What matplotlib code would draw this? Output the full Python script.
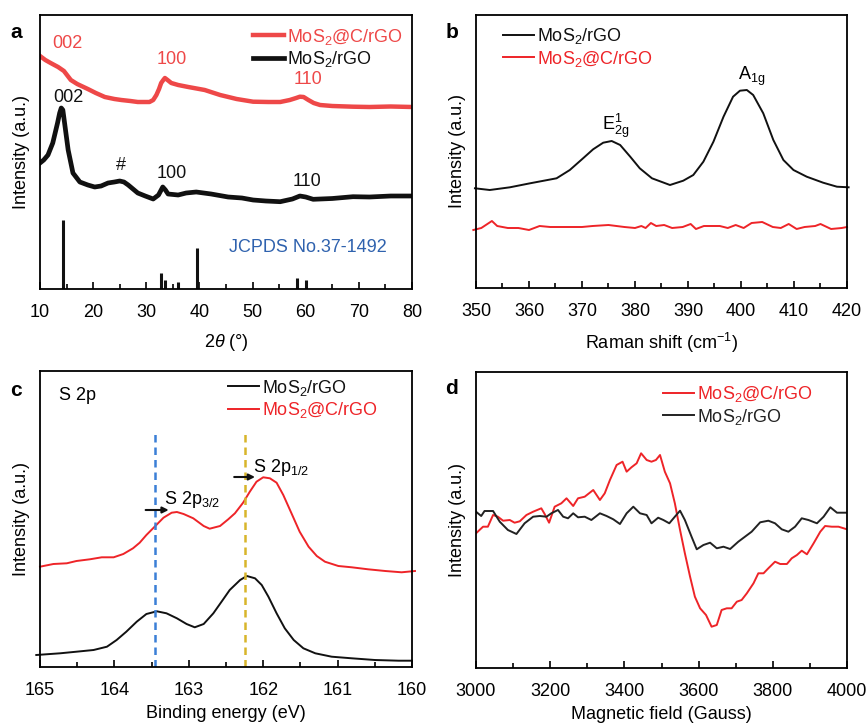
import matplotlib
matplotlib.use("Agg")
import matplotlib.pyplot as plt
from matplotlib.ticker import MultipleLocator

plt.rcParams['font.family'] = ['Liberation Sans', 'DejaVu Sans']
plt.rcParams['mathtext.fontset'] = 'custom'
plt.rcParams['mathtext.rm'] = 'Liberation Sans'
plt.rcParams['mathtext.it'] = 'Liberation Sans:italic'
plt.rcParams['mathtext.bf'] = 'Liberation Sans:bold'
plt.rcParams['mathtext.default'] = 'regular'

# ---------------- DATA ----------------
# (a) XRD  (intensity in arbitrary units)
xrd_red_x = [10, 11, 12, 13.4, 14.5, 15.8, 17, 19, 20.5, 22.2, 24, 25.3, 27, 28.4, 30.6, 31.3, 31.9,
             32.4, 32.8, 33.2, 33.5, 34, 34.7, 36, 37.9, 41, 43.9, 47, 50.1, 53, 55.2, 57, 58.2, 58.9,
             59.6, 60.5, 61.5, 62.7, 65, 68.9, 72, 76, 80]
xrd_red_y = [233, 229, 226, 222, 218, 209, 205, 200, 196, 192, 190, 189, 188, 187, 187, 189, 194,
             200, 206, 209, 211, 209, 206, 204, 202, 199, 194, 190, 187.3, 187, 187, 189, 191, 192.3,
             192, 189, 186, 184, 183, 182.3, 182, 182.5, 182]
xrd_blk_x = [10, 10.7, 11.5, 12.4, 13.3, 13.7, 14.0, 14.3, 14.6, 15.3, 16.2, 17.5, 19, 20.3, 21.5, 22.8,
             24, 25, 25.8, 26.6, 27.5, 28.4, 29.8, 31.3, 32.3, 32.8, 33.1, 33.6, 34.1, 36, 37.5, 39.4,
             42.2, 45.4, 48, 50.1, 52.5, 55.2, 57.5, 58.9, 60, 61.4, 65, 68.9, 72, 76, 80]
xrd_blk_y = [126, 129, 134, 146, 166, 176, 181, 179, 167, 139, 116, 107, 104, 102, 103, 106,
             107, 108, 107, 104, 100, 96, 93, 90, 94, 99, 102, 99, 95, 94, 96, 97,
             95, 92, 91, 89, 88, 87.3, 90, 93, 92, 89.7, 90.5, 92.3, 92, 93, 93]
jcpds_pos = [14.4, 32.7, 33.5, 35.9, 39.5, 58.3, 60.1]
jcpds_int = [69, 16, 9, 7, 41, 11, 9]

# (b) Raman
raman_blk_x = [349.8, 352.6, 356.4, 360.2, 365.2, 367.7, 370.2, 372.1, 374.0, 375.6, 377.2, 379.1, 380.9,
               383.2, 386.6, 389.1, 391.0, 392.9, 394.8, 396.7, 398.5, 399.8, 401.1, 402.3, 404.2, 406.1,
               408.0, 409.9, 412.4, 415.5, 418.1, 420.3]
raman_blk_y = [99.7, 98, 100.7, 104.7, 109.7, 118, 129.7, 138.7, 145.3, 147, 143, 131.3, 119.7,
               109.7, 103, 107.3, 113, 126.3, 146.3, 171.3, 191.3, 197.3, 198, 193, 174.7, 148,
               128, 118, 111.3, 105.3, 101.3, 100.7]
raman_red_x = [349.5, 351, 353, 354, 356, 358, 360, 362, 364, 367, 370, 372, 375, 378, 380, 381.2, 382,
               383, 384, 385.5, 387, 389, 390.5, 391.5, 393, 396, 397.5, 399, 400.5, 402, 404, 406,
               407.5, 409, 410.5, 412, 414, 415, 417, 419, 420]
raman_red_y = [58, 60, 67, 62, 60, 60, 58, 62, 61, 61, 61, 62, 63, 61, 60, 62, 60,
               65, 62, 63, 60, 61, 64, 59, 62, 62, 60, 63, 60, 65, 66, 61,
               60, 64, 59, 61, 62, 64, 59, 60, 61]

# (c) XPS S 2p
xps_red_x = [165.0, 164.82, 164.64, 164.51, 164.33, 164.17, 164.01, 163.88, 163.75, 163.66, 163.57,
             163.45, 163.34, 163.23, 163.16, 163.07, 162.94, 162.80, 162.72, 162.58, 162.47, 162.38,
             162.27, 162.18, 162.09, 162.0, 161.91, 161.82, 161.73, 161.62, 161.51, 161.39, 161.28,
             161.17, 160.99, 160.81, 160.59, 160.36, 160.14, 159.96]
xps_red_y = [100.3, 103, 103.7, 106, 107.7, 109.7, 109.7, 113, 118.7, 124.3, 132,
             141, 149.3, 154.3, 155, 153, 148.7, 141, 138.3, 141, 147.7, 153.7,
             164.3, 175.3, 185.3, 189.7, 188.7, 184.3, 172, 153.7, 135.3, 120.3, 111,
             105.3, 101, 99.7, 97.7, 96, 94.7, 96]
xps_blk_x = [165.05, 164.73, 164.51, 164.28, 164.10, 163.97, 163.84, 163.70, 163.57, 163.43, 163.30,
             163.16, 163.03, 162.92, 162.80, 162.67, 162.56, 162.45, 162.31, 162.22, 162.11, 162.02,
             161.93, 161.82, 161.71, 161.59, 161.46, 161.30, 161.08, 160.81, 160.50, 160.18, 160.0]
xps_blk_y = [12, 13.7, 15.3, 17, 20.3, 27, 35.3, 45.3, 53, 55.7, 53.7,
             48.7, 43, 39.7, 43, 53.7, 65.3, 77, 87, 91, 88.7, 82,
             70.3, 53.7, 38.7, 27, 18.7, 13.7, 10.3, 8.7, 7, 6.3, 6.3]
s2p32_pos = 163.45
s2p12_pos = 162.24

# (d) EPR
epr_red_x = [3000, 3019, 3032, 3046, 3059, 3073, 3091, 3104, 3118, 3136, 3154, 3176, 3185, 3197, 3212,
             3230, 3244, 3262, 3275, 3293, 3316, 3334, 3347, 3361, 3379, 3395, 3406, 3419, 3433, 3445,
             3460, 3473, 3485, 3496, 3509, 3523, 3536, 3550, 3563, 3577, 3590, 3604, 3620, 3635, 3649,
             3662, 3676, 3689, 3703, 3716, 3730, 3748, 3761, 3775, 3788, 3806, 3820, 3838, 3851, 3865,
             3878, 3892, 3910, 3928, 3941, 3959, 3977, 4000]
epr_red_y = [134.7, 141.3, 141.3, 153, 151.3, 147.3, 148, 145.3, 146.7, 153, 156.3, 159.7, 154, 145.3, 161.3,
             164.7, 169.7, 162, 169.7, 171.3, 178, 168, 174.7, 188, 203, 206.3, 196.3, 200.7, 204.7, 214.7,
             208, 206.3, 208, 213, 196.3, 184.7, 164.7, 138, 114.7, 91.3, 71.3, 59.7, 53, 41.3, 43,
             58, 59.7, 59.7, 66.3, 68, 74.7, 84.7, 94.7, 94.7, 99.7, 106.3, 104, 104, 109.7, 113,
             117.3, 113.7, 124.7, 136.3, 142, 141.3, 141.3, 138.7]
epr_blk_x = [3000, 3014, 3023, 3046, 3064, 3086, 3109, 3131, 3154, 3172, 3190, 3203, 3221, 3235, 3248,
             3262, 3275, 3293, 3311, 3334, 3352, 3370, 3388, 3406, 3424, 3442, 3460, 3473, 3491, 3505,
             3521, 3536, 3550, 3563, 3581, 3595, 3613, 3631, 3649, 3667, 3685, 3707, 3725, 3743, 3766,
             3788, 3806, 3824, 3842, 3860, 3878, 3896, 3919, 3937, 3955, 3973, 4000]
epr_blk_y = [156.3, 152, 157, 157, 146.3, 138, 134, 144.7, 151.3, 152, 151.3, 154.7, 158, 151.3, 149.7,
             154.7, 150.7, 151.3, 148, 154.7, 152, 148.7, 144, 154.7, 161.3, 154.7, 153, 144.7, 150.3, 148,
             144.7, 151.3, 157.3, 148, 131.3, 118.7, 123, 125.3, 119.7, 121.3, 119, 126.3, 131.3, 136.3, 145.7,
             147.3, 144.7, 138.7, 136.3, 141.3, 149.7, 148, 144.7, 151.3, 160.7, 155.3, 155.3]

RED_A = '#EE4848'
RED = '#EE2428'
BLK = '#111111'
FS = 13

fig = plt.figure(figsize=(8.67, 7.27), dpi=100)
W, H = 867, 727

def make_ax(l, r, t, b):
    return fig.add_axes([l / W, 1 - b / H, (r - l) / W, (b - t) / H])

axa = make_ax(40, 412, 15, 289)
axb = make_ax(476, 847, 15, 288)
axc = make_ax(40, 412, 371, 667)
axd = make_ax(476, 847, 372, 668)

def style(ax, xlim, ylim, major, minor, xlabel, xlabelpad=8):
    ax.set_xlim(*xlim)
    ax.set_ylim(*ylim)
    ax.xaxis.set_major_locator(MultipleLocator(major))
    ax.xaxis.set_minor_locator(MultipleLocator(minor))
    ax.set_yticks([])
    ax.tick_params(axis='x', which='major', direction='in', length=5, width=1.2, labelsize=FS, pad=11)
    ax.tick_params(axis='x', which='minor', direction='in', length=3.5, width=1.2)
    for s in ax.spines.values():
        s.set_linewidth(1.3)
    ax.set_xlabel(xlabel, fontsize=FS, labelpad=xlabelpad)
    ax.set_ylabel('Intensity (a.u.)', fontsize=FS, labelpad=7)

def legend(ax, x, y):
    ax.legend(loc='upper left', bbox_to_anchor=(x, y), frameon=False, fontsize=FS,
              handlelength=1.7, handletextpad=0.2, labelspacing=0.15, borderpad=0,
              borderaxespad=0, labelcolor='linecolor')

# ---- (a) ----
style(axa, (10, 80), (0, 274), 10, 5, r'2$\it{\theta}$ (°)')
axa.plot(xrd_red_x, xrd_red_y, color=RED_A, lw=3.2, label=r'MoS$_2$@C/rGO')
axa.plot(xrd_blk_x, xrd_blk_y, color=BLK, lw=3.4, label=r'MoS$_2$/rGO')
axa.vlines(jcpds_pos, 0, jcpds_int, color=BLK, lw=2.2)
legend(axa, 0.573, 0.957)
axa.text(15.1, 246, '002', color=RED_A, fontsize=FS, ha='center', va='center')
axa.text(34.8, 229, '100', color=RED_A, fontsize=FS, ha='center', va='center')
axa.text(60.4, 209, '110', color=RED_A, fontsize=FS, ha='center', va='center')
axa.text(15.3, 192, '002', color=BLK, fontsize=FS, ha='center', va='center')
axa.text(25.2, 124, '#', color=BLK, fontsize=FS, ha='center', va='center')
axa.text(34.8, 116, '100', color=BLK, fontsize=FS, ha='center', va='center')
axa.text(60.2, 107, '110', color=BLK, fontsize=FS, ha='center', va='center')
axa.text(60.5, 41, 'JCPDS No.37-1492', color='#2F62AE', fontsize=FS, ha='center', va='center')

# ---- (b) ----
style(axb, (350, 420), (0, 273), 10, 5, r'Raman shift (cm$^{-1}$)')
axb.plot(raman_blk_x, raman_blk_y, color=BLK, lw=1.4, label=r'MoS$_2$/rGO', clip_on=False)
axb.plot(raman_red_x, raman_red_y, color=RED, lw=1.4, label=r'MoS$_2$@C/rGO', clip_on=False)
legend(axb, 0.073, 0.96)
axb.text(376.3, 162, r'E$^{1}_{2g}$', fontsize=FS, ha='center', va='center')
axb.text(402.0, 212, r'A$_{1g}$', fontsize=FS, ha='center', va='center')

# ---- (c) ----
style(axc, (165, 160), (0, 296), 1, 0.5, 'Binding energy (eV)', xlabelpad=4)
axc.plot(xps_blk_x, xps_blk_y, color=BLK, lw=1.4, label=r'MoS$_2$/rGO', clip_on=False)
axc.plot(xps_red_x, xps_red_y, color=RED, lw=1.4, label=r'MoS$_2$@C/rGO', clip_on=False)
axc.vlines([s2p32_pos], 0, 234, color='#3B7FD6', lw=1.8, linestyles=(0, (3, 2)))
axc.vlines([s2p12_pos], 0, 234, color='#D8B52A', lw=1.8, linestyles=(0, (3, 2)))
legend(axc, 0.505, 0.978)
axc.text(164.74, 272, 'S 2p', fontsize=FS, ha='left', va='center')
axc.annotate('', xy=(163.27, 157), xytext=(163.58, 157),
             arrowprops=dict(arrowstyle='-|>', color=BLK, lw=1.5, mutation_scale=9, shrinkA=0, shrinkB=0))
axc.text(163.33, 168, r'S 2p$_{3/2}$', fontsize=FS, ha='left', va='center')
axc.annotate('', xy=(162.11, 190), xytext=(162.39, 190),
             arrowprops=dict(arrowstyle='-|>', color=BLK, lw=1.5, mutation_scale=9, shrinkA=0, shrinkB=0))
axc.text(162.14, 199, r'S 2p$_{1/2}$', fontsize=FS, ha='left', va='center')

# ---- (d) ----
style(axd, (3000, 4000), (0, 296), 200, 100, 'Magnetic field (Gauss)', xlabelpad=4)
axd.plot(epr_red_x, epr_red_y, color=RED, lw=1.4, label=r'MoS$_2$@C/rGO')
axd.plot(epr_blk_x, epr_blk_y, color='#222222', lw=1.4, label=r'MoS$_2$/rGO')
legend(axd, 0.504, 0.96)

# panel letters
for lbl, (px, py) in zip('abcd', [(16, 32), (452, 32), (16, 390), (451, 389)]):
    fig.text(px / W, 1 - py / H, lbl, fontsize=15, fontweight='bold', ha='center', va='center')

fig.savefig('out.png', dpi=100)
